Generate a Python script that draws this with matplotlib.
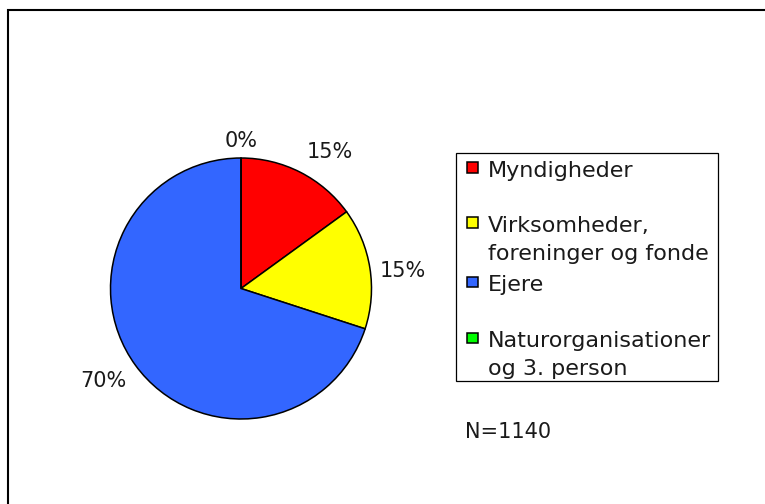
import matplotlib
matplotlib.use("Agg")
import matplotlib.pyplot as plt
from matplotlib.patches import Rectangle
import numpy as np

# ---- data ----
categories = ["Myndigheder", "Virksomheder,\nforeninger og fonde", "Ejere",
              "Naturorganisationer\nog 3. person"]
values = [15, 15, 70, 0]
pct_labels = ["15%", "15%", "70%", "0%"]
colors = ["#FF0000", "#FFFF00", "#3366FF", "#00FF00"]
note = "N=1140"

W, H = 765, 504
plt.rcParams['font.family'] = ['DejaVu Sans']
fig = plt.figure(figsize=(W / 100, H / 100), dpi=100)


def fx(x):
    return x / W


def fy(y):
    return 1 - y / H


# outer frame (runs off the right/bottom edge)
fig.patches.append(Rectangle((fx(8), fy(530)), fx(800) - fx(8), fy(10) - fy(530),
                             transform=fig.transFigure, fill=False,
                             edgecolor="black", linewidth=1.5))

# pie
cx, cy, r = 241, 288.5, 130.5
ax = fig.add_axes([fx(cx - r), fy(cy + r), 2 * r / W, 2 * r / H])
wedges, _ = ax.pie(values, colors=colors, startangle=90, counterclock=False,
                   wedgeprops=dict(edgecolor="black", linewidth=1.1))
for w in wedges:
    w.set_clip_on(False)
ax.set_xlim(-1, 1)
ax.set_ylim(-1, 1)
ax.set_aspect("equal")
ax.axis("off")

# percentage labels
label_r = [1.25, 1.25, 1.27, 1.13]
angle_tweak = [-6, -3, -2, 0]
total = float(sum(values))
cum = np.cumsum([0] + values[:-1])
for i, (v, c0) in enumerate(zip(values, cum)):
    mid = 90 - 360 * (c0 + v / 2) / total + angle_tweak[i]
    t = np.deg2rad(mid)
    ax.text(label_r[i] * np.cos(t), label_r[i] * np.sin(t), pct_labels[i],
            ha="center", va="center", fontsize=15, color="#1a1a1a")

# legend (manual)
fig.patches.append(Rectangle((fx(456), fy(381)), fx(718) - fx(456), fy(153) - fy(381),
                             transform=fig.transFigure, fill=False,
                             edgecolor="black", linewidth=0.9))
baselines = [177, 232, 291, 347]
line_step = 28
for lab, col, yb in zip(categories, colors, baselines):
    fig.patches.append(Rectangle((fx(467), fy(yb - 4)), 10.5 / W, 10.5 / H,
                                 transform=fig.transFigure, facecolor=col,
                                 edgecolor="black", linewidth=1.1))
    for k, line in enumerate(lab.split("\n")):
        fig.text(fx(488), fy(yb + k * line_step), line, ha="left", va="baseline",
                 fontsize=16, color="#1a1a1a")

fig.text(fx(465), fy(438), note, ha="left", va="baseline", fontsize=15,
         color="#1a1a1a")

fig.savefig("out.png", dpi=100)
